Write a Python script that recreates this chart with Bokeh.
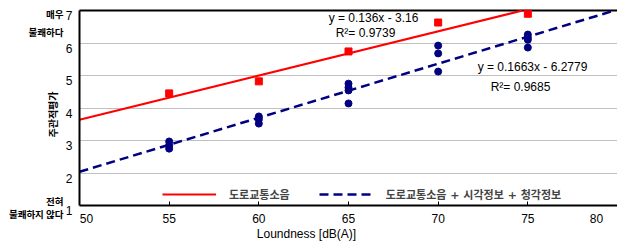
import math
from bokeh.plotting import figure
from bokeh.models import (Range1d, FixedTicker, Label, Legend, LegendItem, LinearAxis, Grid)
from bokeh.embed import file_html
from bokeh.resources import INLINE

# ---- data ----
x_tick_values = [55, 60, 65, 70, 75]
x_label_pos = [50.39, 55, 60, 65, 70, 75, 78.83]
x_label_text = ["50", "55", "60", "65", "70", "75", "80"]
y_ticks = [1, 2, 3, 4, 5, 6, 7]
y_tick_text = ["1", "2", "3", "4", "5", "6", "7"]
grid_ticks = [2, 3, 4, 5, 6]

red_x = [55, 60, 65, 70, 75]
red_y = [4.45, 4.82, 5.74, 6.63, 6.90]

blue_x = [55, 55, 55, 60, 60, 60, 65, 65, 65, 65, 70, 70, 70, 75, 75, 75, 75]
blue_y = [2.97, 2.85, 2.75, 3.74, 3.65, 3.52, 4.75, 4.63, 4.54, 4.14,
          5.92, 5.68, 5.12, 6.26, 6.17, 6.10, 5.86]

red_slope, red_icpt = 0.136, -3.16
blue_slope, blue_icpt = 0.1663, -6.2779
x_min, x_max, y_min, y_max = 50, 80, 1, 7

series_names = ["도로교통소음", "도로교통소음 + 시각정보 + 청각정보"]
red_eq = "y = 0.136x - 3.16"
red_r2 = "R²= 0.9739"
blue_eq = "y = 0.1663x - 6.2779"
blue_r2 = "R²= 0.9685"
x_title = "Loundness [dB(A)]"
y_title = "주관적평가"
top_words = ["매우", "불쾌하다"]
bottom_words = ["전혀", "불쾌하지 않다"]

RED = "#FF0000"
BLUE = "#000080"
KR = "Noto Sans CJK KR"
MIX = "DejaVu Sans, Noto Sans CJK KR"
LAT = "Liberation Sans"

def fit_line(m, b):
    xe = min(x_max, (y_max - b) / m)
    return [x_min, xe], [m * x_min + b, m * xe + b]

red_fx, red_fy = fit_line(red_slope, red_icpt)
blue_fx, blue_fy = fit_line(blue_slope, blue_icpt)

# full-canvas frame; plot area 50..80 x 1..7 mapped to px 79..617 x 205..10
W, H = 617, 241
px_per_x = (W - 79) / (x_max - x_min)
px_per_y = (205 - 10) / (y_max - y_min)
xr = Range1d(x_min - 79 / px_per_x, x_max)
yr = Range1d(y_min - (H - 205) / px_per_y, y_max + 10 / px_per_y)

p = figure(width=W, height=H, x_range=xr, y_range=yr,
           output_backend="svg", toolbar_location=None,
           x_axis_location=None, y_axis_location=None, min_border=0)
p.outline_line_color = None
p.background_fill_color = "white"
p.border_fill_color = "white"
p.xgrid.visible = False
p.ygrid.visible = False

# dotted horizontal gridlines
p.add_layout(Grid(dimension=1, ticker=FixedTicker(ticks=grid_ticks), cross_bounds=(x_min, x_max),
                  grid_line_color="#808080", grid_line_dash="1 1", grid_line_width=1))
# solid top line at 7
p.add_layout(Grid(dimension=1, ticker=FixedTicker(ticks=[y_max]), cross_bounds=(x_min, x_max),
                  grid_line_color="black", grid_line_width=2))
# small inward tick marks on x axis
p.add_layout(Grid(dimension=0, ticker=FixedTicker(ticks=x_tick_values),
                  cross_bounds=(y_min, y_min + 4 / px_per_y),
                  grid_line_color="black", grid_line_width=1))

# axes
xaxis = LinearAxis(fixed_location=y_min, bounds=(x_min, x_max),
                   ticker=FixedTicker(ticks=x_label_pos),
                   major_label_overrides=dict(zip(x_label_pos, x_label_text)),
                   major_tick_in=0, major_tick_out=0, minor_tick_line_color=None,
                   axis_line_width=2, major_label_standoff=8,
                   major_label_text_font=LAT, major_label_text_font_size="12px",
                   major_label_text_color="black")
p.add_layout(xaxis, "below")

yaxis = LinearAxis(fixed_location=x_min, bounds=(y_min, y_max),
                   ticker=FixedTicker(ticks=[]),
                   major_tick_in=0, major_tick_out=0, minor_tick_line_color=None,
                   axis_line_width=2)
p.add_layout(yaxis, "left")

# fits
r_red = p.line(red_fx, red_fy, line_color=RED, line_width=2)
r_blue = p.line(blue_fx, blue_fy, line_color=BLUE, line_width=2.5, line_dash="9 5")

# points
p.scatter(red_x, red_y, marker="square", size=7, color=RED)
p.scatter(blue_x, blue_y, marker="circle", size=7, color=BLUE)

# legend
legend = Legend(items=[LegendItem(label=series_names[0], renderers=[r_red]),
                       LegendItem(label=series_names[1], renderers=[r_blue])],
                orientation="horizontal", location=(162, 39),
                glyph_width=54, glyph_height=12, label_height=12, label_standoff=13,
                spacing=29, padding=0, margin=0,
                border_line_color=None, background_fill_alpha=0,
                label_text_font=MIX, label_text_font_size="11px",
                label_text_font_style="bold")
p.add_layout(legend)

def lab(**kw):
    base = dict(text_color="black", text_align="center", text_baseline="middle")
    base.update(kw)
    p.add_layout(Label(**base))

def dx(px):
    return x_min + (px - 79) / px_per_x

def dy(py):
    return y_min + (205 - py) / px_per_y

# y tick numbers (drawn slightly below their gridlines, as in the original)
for t, s in zip(y_ticks, y_tick_text):
    lab(x=x_min, y=t, x_offset=-7, y_offset=-5, text=s, text_align="right",
        text_font=LAT, text_font_size="12px")

# equations
lab(x=dx(373), y=dy(17), text=red_eq, text_font=LAT, text_font_size="12px")
lab(x=dx(365), y=dy(32), text=red_r2, text_font=LAT, text_font_size="12px")
lab(x=dx(532), y=dy(66), text=blue_eq, text_font=LAT, text_font_size="12px")
lab(x=dx(520), y=dy(86), text=blue_r2, text_font=LAT, text_font_size="12px")

# axis titles
lab(x=dx(306), y=dy(233), text=x_title, text_font=LAT, text_font_size="12px")
lab(x=dx(52), y=dy(114), text=y_title, angle=math.pi / 2,
    text_font=KR, text_font_size="10px", text_font_style="bold")

# scale words
for word, py in [(top_words[0], 13), (top_words[1], 31), (bottom_words[0], 200), (bottom_words[1], 213)]:
    lab(x=dx(63), y=dy(py), text=word, text_align="right",
        text_font=KR, text_font_size="9.5px", text_font_style="bold")

open("out.html", "w").write(file_html(p, INLINE))
